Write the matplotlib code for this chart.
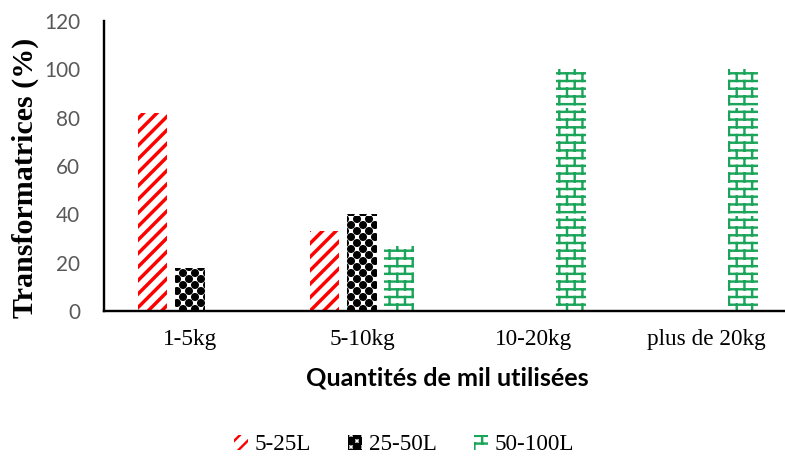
import warnings
import numpy as np
import matplotlib
matplotlib.use("Agg")
import matplotlib.pyplot as plt
from matplotlib import hatch as mhatch
from matplotlib.path import Path

warnings.filterwarnings("ignore")

categories = ["1-5kg", "5-10kg", "10-20kg", "plus de 20kg"]
series = ["5-25L", "25-50L", "50-100L"]
v_5_25 = [82, 33, 0, 0]
v_25_50 = [18, 40, 0, 0]
v_50_100 = [0, 27, 100, 100]
yticks = [0, 20, 40, 60, 80, 100, 120]


# custom hatch patterns (Excel-like fills)
class Stripes(mhatch.HatchPatternBase):
    n = 16

    def __init__(self, hatch, density):
        self.num_vertices = (self.n + 1) * 2 if "S" in hatch else 0

    def set_vertices_and_codes(self, vertices, codes):
        steps = np.linspace(-0.5, 0.5, self.n + 1)
        vertices[0::2, 0] = 0.0 + steps
        vertices[0::2, 1] = 0.0 - steps
        vertices[1::2, 0] = 1.0 + steps
        vertices[1::2, 1] = 1.0 - steps
        codes[0::2] = Path.MOVETO
        codes[1::2] = Path.LINETO


class Bricks(mhatch.HatchPatternBase):
    rows, cols = 14, 7

    def __init__(self, hatch, density):
        self.num_vertices = (self.rows + self.rows * self.cols) * 2 if "B" in hatch else 0

    def set_vertices_and_codes(self, vertices, codes):
        segs = []
        for k in range(self.rows):
            y0 = (k + 0.5) / self.rows
            y1 = (k + 1.5) / self.rows
            segs.append(((0, y0), (1, y0)))
            shift = (0.25 + 0.5 * (k % 2)) / self.cols
            for j in range(self.cols):
                x = j / self.cols + shift
                segs.append(((x, y0), (x, y1)))
        vertices[:] = np.array(segs, dtype=float).reshape(-1, 2)
        codes[0::2] = Path.MOVETO
        codes[1::2] = Path.LINETO


class Dots(mhatch.HatchPatternBase):
    rows, cols, r = 18, 9, 0.030
    filled = True

    def __init__(self, hatch, density):
        circ = Path.unit_circle()
        self.sv, self.sc = circ.vertices, circ.codes
        self.num_vertices = self.rows * self.cols * len(self.sv) if "K" in hatch else 0

    def set_vertices_and_codes(self, vertices, codes):
        n = len(self.sv)
        i = 0
        for k in range(self.rows):
            y = (k + 0.5) / self.rows
            for j in range(self.cols):
                x = (j + 0.25 + 0.5 * (k % 2)) / self.cols
                vertices[i:i + n] = self.sv * self.r + (x, y)
                codes[i:i + n] = self.sc
                i += n


mhatch._hatch_types.extend([Stripes, Bricks, Dots])

styles = [("#FF0000", "S", 2.3), ("#000000", "K", 1.0), ("#1BA55A", "B", 1.6)]

dpi = 108
fig = plt.figure(figsize=(785 / dpi, 460 / dpi), dpi=dpi)
ax = fig.add_axes([104 / 785, 1 - 311 / 460, 681 / 785, 290 / 460])

x = np.arange(len(categories))
width = 0.174
step = 0.218
for i, (vals, name) in enumerate(zip([v_5_25, v_25_50, v_50_100], series)):
    color, hatch, lw = styles[i]
    plt.rcParams["hatch.linewidth"] = lw
    bars = ax.bar(x + (i - 1) * step, vals, width, label=name, facecolor="white",
                  edgecolor=color, linewidth=0, hatch=hatch)
    for b in bars:
        if hasattr(b, "set_hatch_linewidth"):
            b.set_hatch_linewidth(lw)

ax.set_xlim(-0.5, 3.46)
ax.set_ylim(0, 120)
ax.set_yticks(yticks)
ax.set_xticks(x)
ax.set_xticklabels(categories, family="Liberation Serif", fontsize=15.5, color="black")
ax.tick_params(axis="y", length=0, pad=16, labelsize=13.8, labelcolor="#595959")
ax.tick_params(axis="x", length=0, pad=12)
for lab in ax.get_yticklabels():
    lab.set_family("Lato")

for s in ["top", "right"]:
    ax.spines[s].set_visible(False)
for s in ["left", "bottom"]:
    ax.spines[s].set_linewidth(1.6)
    ax.spines[s].set_color("black")

ax.set_xlabel("Quantités de mil utilisées", family="Lato", fontweight="bold",
              fontsize=16.8, va="center")
ax.xaxis.set_label_coords(0.504, -0.231)
ax.set_ylabel("Transformatrices (%)", family="Liberation Serif", fontweight="bold",
              fontsize=20, va="center")
ax.yaxis.set_label_coords(-0.116, 0.459)

fig.legend(loc="center", bbox_to_anchor=(0.515, 0.033), ncol=3, frameon=False,
           prop={"family": "Liberation Serif", "size": 15.4},
           handlelength=0.6, handleheight=0.6, handletextpad=0.3, columnspacing=1.6)

plt.savefig("out.png", dpi=dpi)
